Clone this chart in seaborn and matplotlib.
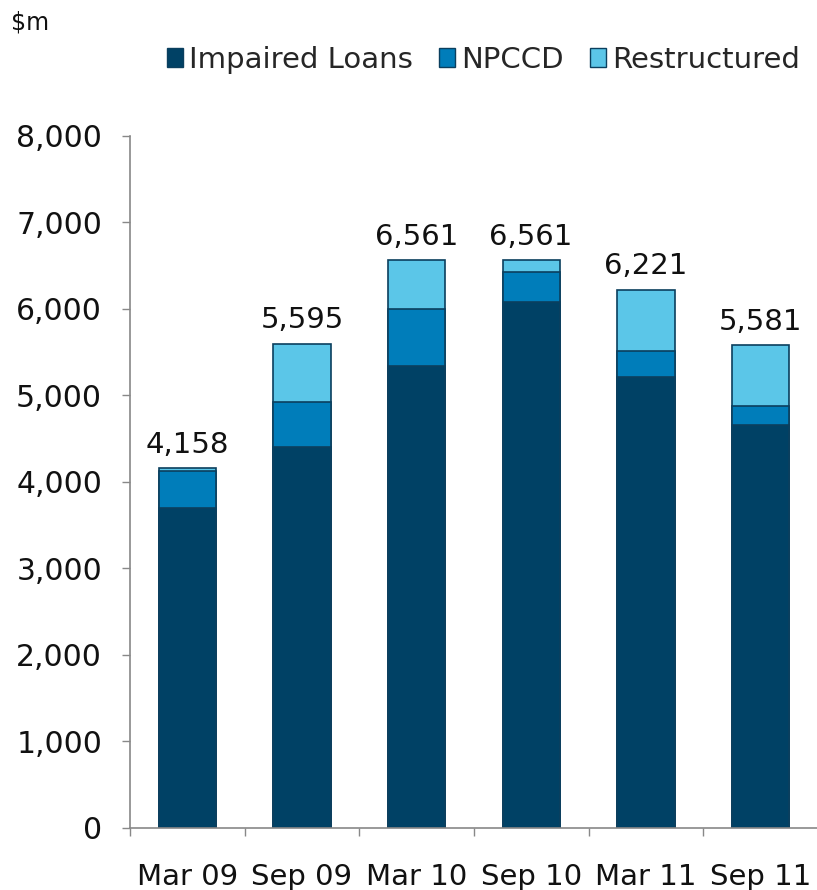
import matplotlib
matplotlib.use("Agg")
import matplotlib.pyplot as plt
import seaborn as sns
import pandas as pd
from matplotlib.patches import Patch
from matplotlib.ticker import FuncFormatter

periods = ["Mar 09", "Sep 09", "Mar 10", "Sep 10", "Mar 11", "Sep 11"]
impaired = [3700, 4401, 5341, 6084, 5214, 4659]
npccd = [428, 520, 659, 340, 300, 223]
restructured = [30, 674, 561, 137, 707, 699]
totals = [4158, 5595, 6561, 6561, 6221, 5581]

c_imp = "#004165"
c_np = "#007dba"
c_re = "#5bc6e8"
edge = "#0b3f5e"

sns.set_theme(style="white")
plt.rcParams["font.family"] = ["DejaVu Sans"]

df = pd.DataFrame({
    "period": periods,
    "l3": [a + b + c for a, b, c in zip(impaired, npccd, restructured)],
    "l2": [a + b for a, b in zip(impaired, npccd)],
    "l1": impaired,
})

fig = plt.figure(figsize=(8.17, 8.90), dpi=100)
ax = fig.add_axes([0.159, 0.0697, 0.842, 0.7775])

for col, c in (("l3", c_re), ("l2", c_np), ("l1", c_imp)):
    sns.barplot(data=df, x="period", y=col, color=c, width=0.5,
                edgecolor=edge, linewidth=1.2, saturation=1, ax=ax)

for i, t in enumerate(totals):
    ax.annotate(f"{t:,}", (i, t), xytext=(0, 7), textcoords="offset points",
                ha="center", va="bottom", fontsize=21, color="#111111")

ax.set_ylim(0, 8000)
ax.set_xlim(-0.5, 5.5)
ax.set_yticks(range(0, 8001, 1000))
ax.yaxis.set_major_formatter(FuncFormatter(lambda v, p: f"{int(v):,}"))
ax.set_xlabel("")
ax.set_ylabel("")
ax.tick_params(axis="y", labelsize=21.5, length=6, width=1, color="#888888",
               direction="out", left=True, pad=14, labelcolor="#111111")
ax.set_xticks(range(6))
ax.set_xticklabels(periods)
ax.tick_params(axis="x", labelsize=21, length=0, pad=25, labelcolor="#111111")
ax.set_xticks([x + 0.5 for x in range(-1, 5)], minor=True)
ax.tick_params(axis="x", which="minor", bottom=True, length=6, width=1,
               color="#888888", direction="out")

for s in ("top", "right"):
    ax.spines[s].set_visible(False)
for s in ("left", "bottom"):
    ax.spines[s].set_color("#888888")
    ax.spines[s].set_linewidth(1.2)

handles = [Patch(facecolor=c_imp, edgecolor=edge, label="Impaired Loans"),
           Patch(facecolor=c_np, edgecolor=edge, label="NPCCD"),
           Patch(facecolor=c_re, edgecolor=edge, label="Restructured")]
fig.legend(handles=handles, loc="center", bbox_to_anchor=(0.592, 0.933), ncol=3,
           frameon=False, fontsize=21, handlelength=0.55, handleheight=0.6,
           handletextpad=0.2, columnspacing=0.9)

fig.text(0.014, 0.975, "$m", fontsize=17, va="center", ha="left", color="#111111")

fig.savefig("out.png", dpi=100)
